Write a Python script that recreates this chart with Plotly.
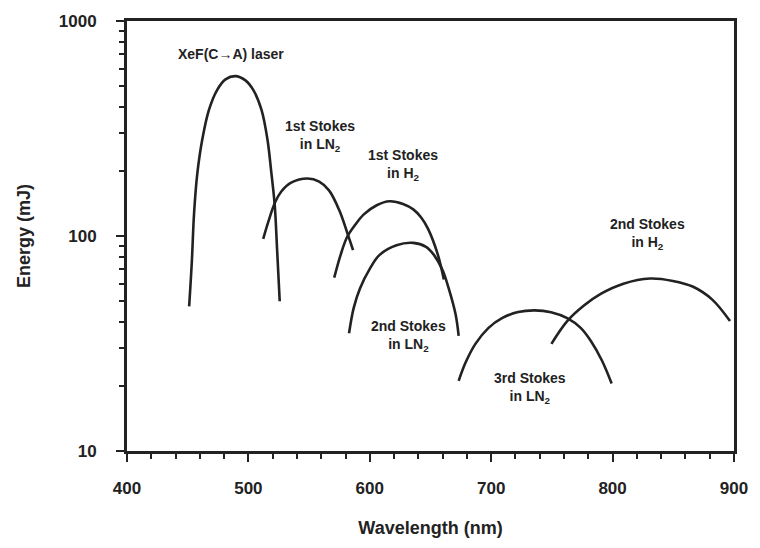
import math
import plotly.graph_objects as go

# Wavelength (nm) and energy (mJ)
xef_wl = [451.2, 453.4, 455.3, 458.0, 462.0, 467.5, 474.2, 481.1, 489.2, 497.3, 504.1,
          510.8, 515.7, 518.9, 521.7, 523.6, 525.8]
xef_e = [47.1, 75.9, 129, 197, 281, 386, 477, 535, 554, 531, 477,
         386, 281, 197, 139, 87.4, 49.7]

s1_ln2_wl = [512.2, 516.3, 522.0, 527.1, 535.2, 548.8, 558.3, 566.4, 574.8, 581.3, 586.2]
s1_ln2_e = [96.9, 116, 143.5, 161, 177, 185, 179, 163, 132, 104, 86]

s1_h2_wl = [570.7, 575.9, 581.3, 588.1, 595.1, 605.7, 616.3, 627.4, 635.8, 642.3, 648.0, 656.1, 661.0]
s1_h2_e = [64, 81.5, 98.9, 113, 126, 139, 145, 141, 133, 122, 108, 81.7, 62.7]

s2_ln2_wl = [582.9, 586.7, 591.9, 600.2, 608.1, 622.0, 635.8, 646.3, 652.8, 659.9, 665.0, 670.7, 673.2]
s2_ln2_e = [35.3, 46.2, 57, 70.7, 81.7, 90.6, 92.9, 89, 81.7, 69.5, 57, 43.1, 34.3]

s3_ln2_wl = [673.2, 678.9, 687.0, 697.8, 708.9, 722.2, 735.8, 749.3, 762.6, 773.7, 782.1, 791.3, 799.2]
s3_ln2_e = [21.2, 25.8, 31.5, 37.4, 41.5, 44.3, 45.1, 44.2, 41.5, 37.4, 32.5, 26.3, 20.6]

s2_h2_wl = [749.6, 762.6, 776.4, 790.2, 808.9, 830.9, 849.6, 865.9, 882.1, 896.7]
s2_h2_e = [31.5, 40.2, 47.5, 53.8, 60.0, 63.4, 61.8, 58.2, 50.6, 40.2]

label_text = ["XeF(C\u2192A) laser", "1st Stokes<br>in LN<sub>2</sub>", "1st Stokes<br>in H<sub>2</sub>",
              "2nd Stokes<br>in LN<sub>2</sub>", "3rd Stokes<br>in LN<sub>2</sub>", "2nd Stokes<br>in H<sub>2</sub>"]
label_wl = [486, 559, 627.6, 631.7, 731.7, 828.5]
label_e = [705, 292, 215, 34.3, 19.7, 102]

x_ticks = [400, 500, 600, 700, 800, 900]
y_ticks = [10, 100, 1000]
y_minor = [20, 30, 40, 50, 60, 70, 80, 90, 200, 300, 400, 500, 600, 700, 800, 900]

ink = "#222222"
fnt = "Liberation Sans, Arial, sans-serif"

fig = go.Figure()
for wl, e in [(xef_wl, xef_e), (s1_ln2_wl, s1_ln2_e), (s1_h2_wl, s1_h2_e),
              (s2_ln2_wl, s2_ln2_e), (s3_ln2_wl, s3_ln2_e), (s2_h2_wl, s2_h2_e)]:
    fig.add_trace(go.Scatter(x=wl, y=e, mode="lines",
                             line=dict(color=ink, width=2.6, shape="spline", smoothing=1.0),
                             showlegend=False, hoverinfo="skip"))

for t, xw, ye in zip(label_text, label_wl, label_e):
    fig.add_annotation(x=xw, y=math.log10(ye), xref="x", yref="y", text=t, showarrow=False,
                       font=dict(family=fnt, size=14, color=ink, weight="bold"),
                       align="center", xanchor="center", yanchor="middle")

fig.update_layout(
    width=760, height=548,
    margin=dict(l=127, r=18, t=17, b=97),
    paper_bgcolor="white", plot_bgcolor="white",
    font=dict(family=fnt, color=ink, weight="bold"),
    xaxis=dict(range=[400, 900], tickvals=x_ticks, ticks="outside", ticklen=8, tickwidth=2,
               tickcolor=ink, showline=True, linewidth=3, linecolor=ink, mirror=True,
               showgrid=False, zeroline=False,
               tickfont=dict(family=fnt, size=17, color=ink, weight="bold"),
               ticklabelstandoff=12,
               minor=dict(dtick=20, ticks="outside", ticklen=5, tickwidth=2, tickcolor=ink, showgrid=False),
               title=dict(text="Wavelength (nm)", standoff=24,
                          font=dict(family=fnt, size=18, color=ink, weight="bold"))),
    yaxis=dict(type="log", range=[1, 3], tickvals=y_ticks, ticktext=["10", "100", "1000"],
               ticks="outside", ticklen=8, tickwidth=2, tickcolor=ink,
               showline=True, linewidth=3, linecolor=ink, mirror=True,
               showgrid=False, zeroline=False,
               tickfont=dict(family=fnt, size=17, color=ink, weight="bold"),
               ticklabelstandoff=16,
               minor=dict(tickvals=y_minor, ticks="outside", ticklen=5, tickwidth=2,
                          tickcolor=ink, showgrid=False),
               title=dict(text="Energy (mJ)", standoff=24,
                          font=dict(family=fnt, size=18, color=ink, weight="bold"))),
)

fig.write_html("out.html")
